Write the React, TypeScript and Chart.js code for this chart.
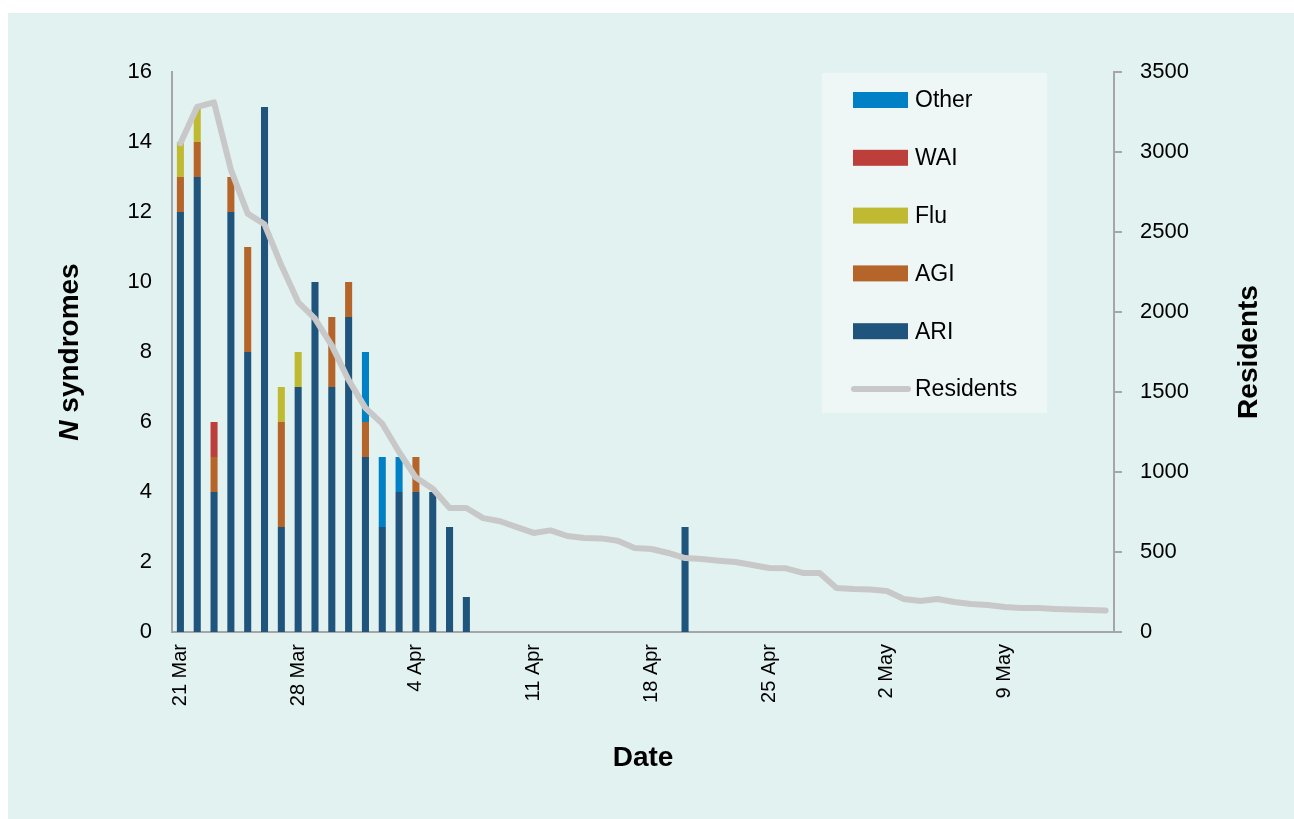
import React, { useEffect, useRef } from "react";
import { Chart, registerables } from "chart.js";

Chart.register(...registerables);

const dates = [
  "21 Mar", "22 Mar", "23 Mar", "24 Mar", "25 Mar", "26 Mar", "27 Mar", "28 Mar", "29 Mar", "30 Mar", "31 Mar",
  "1 Apr", "2 Apr", "3 Apr", "4 Apr", "5 Apr", "6 Apr", "7 Apr", "8 Apr", "9 Apr", "10 Apr", "11 Apr", "12 Apr",
  "13 Apr", "14 Apr", "15 Apr", "16 Apr", "17 Apr", "18 Apr", "19 Apr", "20 Apr", "21 Apr", "22 Apr", "23 Apr",
  "24 Apr", "25 Apr", "26 Apr", "27 Apr", "28 Apr", "29 Apr", "30 Apr", "1 May", "2 May", "3 May", "4 May",
  "5 May", "6 May", "7 May", "8 May", "9 May", "10 May", "11 May", "12 May", "13 May", "14 May", "15 May",
];

const tickLabels = ["21 Mar", "28 Mar", "4 Apr", "11 Apr", "18 Apr", "25 Apr", "2 May", "9 May"];

const ari = [12, 13, 4, 12, 8, 15, 3, 7, 10, 7, 9, 5, 3, 4, 4, 4, 3, 1, 0, 0, 0, 0, 0, 0, 0, 0, 0, 0, 0, 0, 3, 0, 0, 0, 0, 0, 0, 0, 0, 0, 0, 0, 0, 0, 0, 0, 0, 0, 0, 0, 0, 0, 0, 0, 0, 0];
const agi = [1, 1, 1, 1, 3, 0, 3, 0, 0, 2, 1, 1, 0, 0, 1, 0, 0, 0, 0, 0, 0, 0, 0, 0, 0, 0, 0, 0, 0, 0, 0, 0, 0, 0, 0, 0, 0, 0, 0, 0, 0, 0, 0, 0, 0, 0, 0, 0, 0, 0, 0, 0, 0, 0, 0, 0];
const flu = [1, 1, 0, 0, 0, 0, 1, 1, 0, 0, 0, 0, 0, 0, 0, 0, 0, 0, 0, 0, 0, 0, 0, 0, 0, 0, 0, 0, 0, 0, 0, 0, 0, 0, 0, 0, 0, 0, 0, 0, 0, 0, 0, 0, 0, 0, 0, 0, 0, 0, 0, 0, 0, 0, 0, 0];
const wai = [0, 0, 1, 0, 0, 0, 0, 0, 0, 0, 0, 0, 0, 0, 0, 0, 0, 0, 0, 0, 0, 0, 0, 0, 0, 0, 0, 0, 0, 0, 0, 0, 0, 0, 0, 0, 0, 0, 0, 0, 0, 0, 0, 0, 0, 0, 0, 0, 0, 0, 0, 0, 0, 0, 0, 0];
const other = [0, 0, 0, 0, 0, 0, 0, 0, 0, 0, 0, 2, 2, 1, 0, 0, 0, 0, 0, 0, 0, 0, 0, 0, 0, 0, 0, 0, 0, 0, 0, 0, 0, 0, 0, 0, 0, 0, 0, 0, 0, 0, 0, 0, 0, 0, 0, 0, 0, 0, 0, 0, 0, 0, 0, 0];

const residents = [
  3055, 3282, 3310, 2890, 2615, 2548, 2292, 2062, 1958, 1790, 1575, 1400, 1302, 1125, 965, 895,
  775, 775, 712, 692, 655, 619, 635, 600, 587, 585, 570, 525, 519, 494, 462, 456, 446, 437, 419,
  400, 398, 369, 369, 275, 269, 266, 256, 206, 194, 206, 188, 175, 169, 156, 150, 150, 144, 140, 138, 135,
];

const FONT = "'Liberation Sans', Arial, sans-serif";
const AXIS = "#a6a6a6";

const COLORS = {
  ARI: "#1f547c",
  AGI: "#b5642a",
  Flu: "#bfba31",
  WAI: "#bc3f3c",
  Other: "#0081c6",
  Residents: "#c8c8c8",
};

const overlay = {
  id: "overlay",
  afterDraw(chart: any) {
    const ctx = chart.ctx as CanvasRenderingContext2D;
    ctx.save();
    ctx.fillStyle = "#000";
    ctx.textBaseline = "middle";

    // Left axis title: italic N + " syndromes"
    ctx.save();
    ctx.translate(62, 339);
    ctx.rotate(-Math.PI / 2);
    const f1 = `italic bold 28px ${FONT}`;
    const f2 = `bold 28px ${FONT}`;
    ctx.font = f1;
    const wN = ctx.measureText("N").width;
    ctx.font = f2;
    const wRest = ctx.measureText(" syndromes").width;
    const start = -(wN + wRest) / 2;
    ctx.textAlign = "left";
    ctx.font = f1;
    ctx.fillText("N", start, 0);
    ctx.font = f2;
    ctx.fillText(" syndromes", start + wN, 0);
    ctx.restore();

    // Right axis title
    ctx.save();
    ctx.translate(1241, 339);
    ctx.rotate(-Math.PI / 2);
    ctx.textAlign = "center";
    ctx.font = `bold 28px ${FONT}`;
    ctx.fillText("Residents", 0, 0);
    ctx.restore();

    // X axis title
    ctx.textAlign = "center";
    ctx.font = `bold 28px ${FONT}`;
    ctx.fillText("Date", 635, 745);

    // Legend
    ctx.fillStyle = "#eef7f6";
    ctx.fillRect(814, 60, 225, 340);
    const ds = chart.data.datasets;
    const bars = ds.filter((d: any) => d.type !== "line").slice().reverse();
    const lines = ds.filter((d: any) => d.type === "line");
    const items = [...bars, ...lines];
    ctx.font = `23px ${FONT}`;
    ctx.textAlign = "left";
    items.forEach((d: any, i: number) => {
      const y = 87 + i * 57.8;
      if (d.type === "line") {
        ctx.strokeStyle = d.borderColor;
        ctx.lineWidth = 6;
        ctx.lineCap = "round";
        ctx.beginPath();
        ctx.moveTo(846, y);
        ctx.lineTo(900, y);
        ctx.stroke();
      } else {
        ctx.fillStyle = d.backgroundColor;
        ctx.fillRect(845, y - 8, 55, 16);
      }
      ctx.fillStyle = "#000";
      ctx.fillText(d.label, 907, y + 1);
    });
    ctx.restore();
  },
};

export default function App() {
  const ref = useRef<HTMLCanvasElement | null>(null);

  useEffect(() => {
    if (!ref.current) return;
    const bar = (label: string, data: number[], color: string) => ({
      type: "bar" as const,
      label,
      data,
      backgroundColor: color,
      borderWidth: 0,
      yAxisID: "y",
      order: 1,
      categoryPercentage: 1,
      barPercentage: 0.42,
    });
    const chart = new Chart(ref.current, {
      type: "bar",
      data: {
        labels: dates,
        datasets: [
          bar("ARI", ari, COLORS.ARI),
          bar("AGI", agi, COLORS.AGI),
          bar("Flu", flu, COLORS.Flu),
          bar("WAI", wai, COLORS.WAI),
          bar("Other", other, COLORS.Other),
          {
            type: "line" as const,
            label: "Residents",
            data: residents,
            borderColor: COLORS.Residents,
            backgroundColor: COLORS.Residents,
            borderWidth: 6,
            pointRadius: 0,
            tension: 0,
            borderCapStyle: "round",
            borderJoinStyle: "round",
            yAxisID: "y1",
            order: 0,
          } as any,
        ],
      },
      options: {
        animation: false,
        responsive: true,
        maintainAspectRatio: false,
        layout: { padding: { top: 59, left: 0, right: 0, bottom: 0 } },
        plugins: {
          legend: { display: false },
          tooltip: { enabled: false },
          title: { display: false },
        },
        scales: {
          x: {
            stacked: true,
            grid: { display: false, drawTicks: false },
            border: { display: true, color: AXIS, width: 2 },
            ticks: {
              autoSkip: false,
              maxRotation: 90,
              minRotation: 90,
              padding: 12,
              color: "#000",
              font: { family: FONT, size: 20 },
              callback: function (this: any, _v: any, i: number) {
                const l = dates[i];
                return tickLabels.includes(l) ? l : "";
              },
            },
            afterFit: (s: any) => {
              s.height = 187;
            },
          },
          y: {
            stacked: true,
            position: "left",
            min: 0,
            max: 16,
            grid: { display: false, drawTicks: false },
            border: { display: true, color: AXIS, width: 2 },
            ticks: {
              stepSize: 2,
              padding: 20,
              color: "#000",
              font: { family: FONT, size: 22 },
            },
            afterFit: (s: any) => {
              s.width = 164;
            },
          },
          y1: {
            stacked: false,
            position: "right",
            min: 0,
            max: 3500,
            grid: {
              display: true,
              drawOnChartArea: false,
              drawTicks: true,
              tickLength: 8,
              color: AXIS,
              lineWidth: 2,
            },
            border: { display: true, color: AXIS, width: 2 },
            ticks: {
              stepSize: 500,
              padding: 18,
              color: "#000",
              font: { family: FONT, size: 22 },
              callback: (v: any) => String(v),
            },
            afterFit: (s: any) => {
              s.width = 180;
            },
          },
        },
      },
      plugins: [overlay],
    });
    return () => chart.destroy();
  }, []);

  return (
    <div
      style={{
        position: "fixed",
        left: 8,
        top: 13,
        width: 1286,
        height: 806,
        background: "#e2f2f0",
      }}
    >
      <canvas ref={ref} />
    </div>
  );
}
